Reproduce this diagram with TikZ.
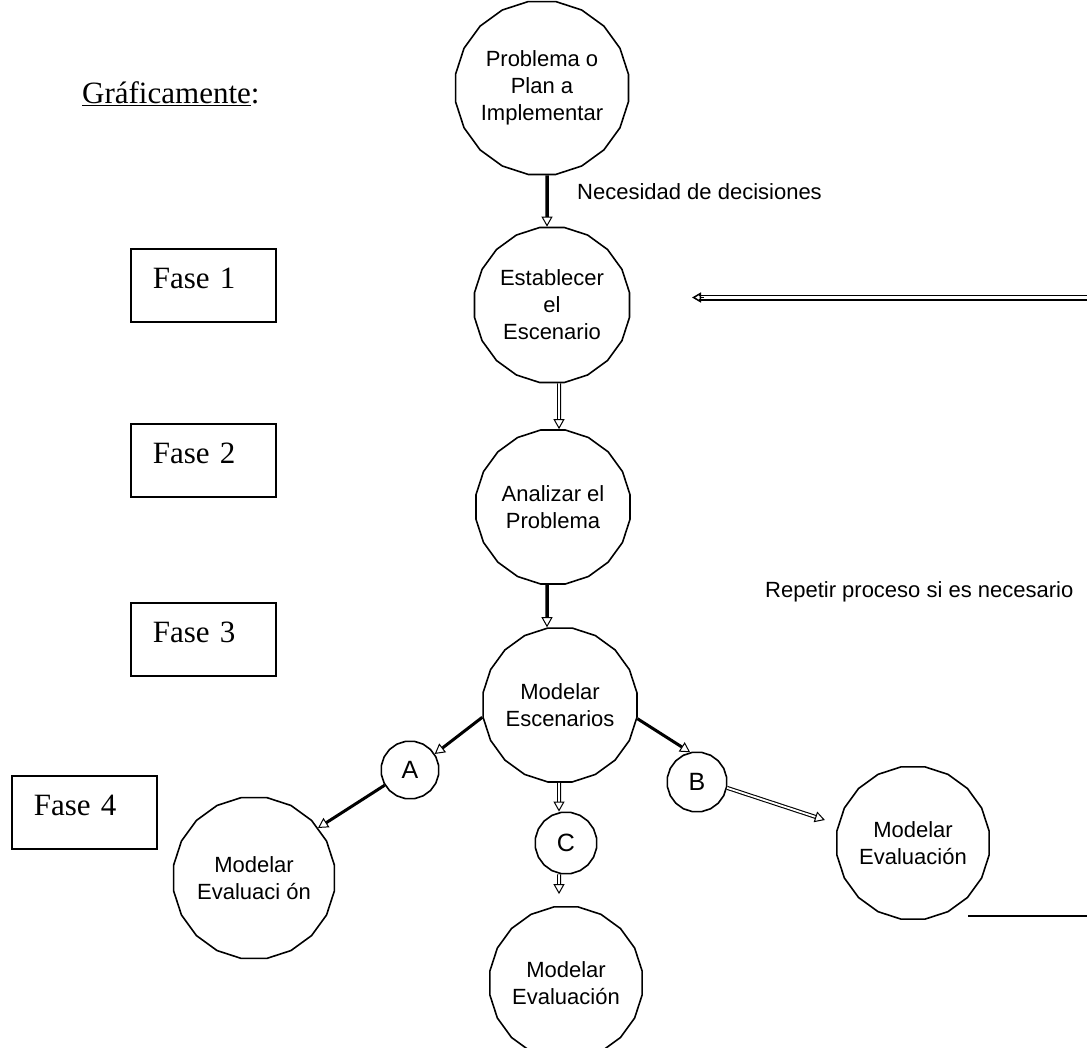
\documentclass[tikz,border=0pt]{standalone}
\usepackage{fontspec}
\setmainfont{Liberation Serif}
\newfontfamily\arialfont{Liberation Sans}
\usetikzlibrary{shapes.geometric,arrows.meta}
\begin{document}
\begin{tikzpicture}[x=1pt,y=-1pt,
  bubble/.style={draw, line width=1.6pt, regular polygon, regular polygon sides=20,
    inner sep=0pt, align=center, font=\arialfont\fontsize{22}{27}\selectfont},
  letter/.style={bubble, font=\arialfont\fontsize{25}{27}\selectfont},
  fasebox/.style={draw, line width=1.6pt, anchor=north west, minimum width=145pt,
    minimum height=73pt, text width=101pt, align=left, inner xsep=22pt, inner ysep=0pt,
    text height=21pt, text depth=14pt, font=\fontsize{31}{34}\selectfont},
  note/.style={anchor=west, inner sep=0pt, font=\arialfont\fontsize{22}{26}\selectfont},
  tip/.style={-{Triangle[open,length=10pt,width=11pt,line width=1pt]}},
  blkarrow/.style={tip, line width=3.5pt},
  dblarrow/.style={tip, double, line width=1.1pt, double distance=1.8pt},
  looptip/.style={-{Triangle[open,length=9pt,width=10pt,line width=1.5pt]}, line width=1pt}
]
\useasboundingbox (0,0) rectangle (1087,1047);

% heading
\node[anchor=base west, inner sep=0pt, font=\fontsize{31}{34}\selectfont] (title)
  at (82,103) {\underline{Gráficamente}:};

% phase boxes
\node[fasebox] (f1) at (130,248) {Fase 1};
\node[fasebox] (f2) at (130,423) {Fase 2};
\node[fasebox] (f3) at (130,602) {Fase 3};
\node[fasebox] (f4) at (11,775) {Fase 4};

% main chain
\node[bubble, minimum size=162pt] (prob) at (542,88) {Problema o\\Plan a\\Implementar};
\node[bubble, minimum size=157pt] (est) at (552,305) {Establecer\\el\\Escenario};
\node[bubble, minimum size=156pt] (ana) at (553,507) {Analizar el\\Problema};
\node[bubble, minimum size=145pt] (mod) at (560,705) {Modelar\\Escenarios};

% scenario branches
\node[letter, minimum size=58pt] (A) at (410,770) {A};
\node[letter, minimum size=60pt] (B) at (697,782) {B};
\node[letter, minimum size=62pt] (C) at (566,843) {C};

\node[bubble, minimum size=132pt] (levl) at (254,878) {Modelar\\Evaluaci ón};
\node[bubble, minimum size=133pt] (reval) at (913,843) {Modelar\\Evaluación};
\node[bubble, minimum size=130pt] (beval) at (566,983) {Modelar\\Evaluación};

% labels
\node[note] (need) at (577,192) {Necesidad de decisiones};
\node[note] (again) at (765,592) {Repetir proceso si es necesario};

% connectors
\draw[blkarrow] ([xshift=5]prob.south) -- ([xshift=-5]est.north);
\draw[dblarrow] ([xshift=7]est.south) -- ([xshift=6]ana.north);
\draw[blkarrow] ([xshift=-6]ana.south) -- ([xshift=-13]mod.north);

\draw[blkarrow, line width=3pt] (mod.189) -- (A.33);
\draw[blkarrow, line width=3pt] (A.211) -- (levl.38);
\draw[blkarrow, line width=3pt] (mod.350) -- (B.103);
\draw[dblarrow, shorten >=14pt] (B.349) -- (reval.166);
\draw[dblarrow] ([xshift=-1]mod.south) -- ([xshift=-7]C.north);
\draw[dblarrow, shorten >=12pt] ([xshift=-7]C.south) -- ([xshift=-7]beval.north);

% feedback arrow: thin upper rule, heavier lower rule, open tip
\coordinate (loopin) at (1087,297.5);
\coordinate (loopout) at (692,297.5);
\draw[line width=1pt] ([yshift=1.8pt]loopin) -- ([xshift=7pt,yshift=1.8pt]loopout);
\draw[line width=2pt] ([yshift=-2pt]loopin) -- ([xshift=7pt,yshift=-2pt]loopout);
\draw[looptip] ([xshift=12pt]loopout) -- (loopout);

% separator rule
\coordinate (sepa) at (968,916);
\coordinate (sepb) at (1087,916);
\draw[line width=1.3pt] (sepa) -- (sepb);
\end{tikzpicture}
\end{document}
